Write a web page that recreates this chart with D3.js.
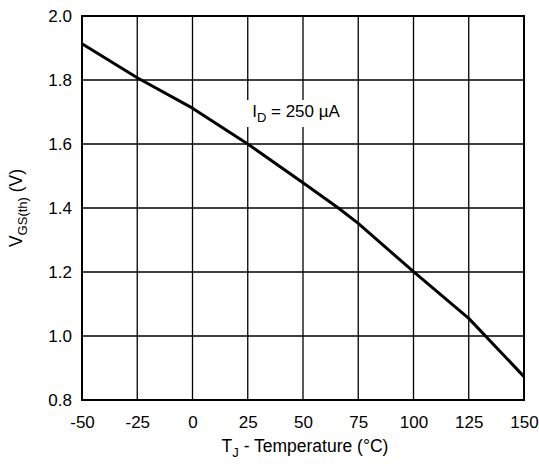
<!DOCTYPE html>
<html>
<head>
<meta charset="utf-8">
<script src="https://cdn.jsdelivr.net/npm/d3@7"></script>
<style>
  body { margin: 0; background: #fff; }
  svg { font-family: "Liberation Sans", Arial, Helvetica, sans-serif; }
</style>
</head>
<body>
<div id="chart"></div>
<script>
// Curve: junction temperature (°C) vs threshold voltage (V)
const temps = [-50, -25, 0, 25, 50, 66, 75, 100, 125, 150];
const vgsth = [1.913, 1.807, 1.712, 1.6, 1.479, 1.4, 1.352, 1.201, 1.055, 0.873];

const xTicks = [-50, -25, 0, 25, 50, 75, 100, 125, 150];
const yTicks = [0.8, 1.0, 1.2, 1.4, 1.6, 1.8, 2.0];

const width = 539;
const height = 464;
const margin = { top: 16, right: 15, bottom: 64, left: 82 };
const fontSize = 17;

const svg = d3.select('#chart')
  .append('svg')
  .attr('width', width)
  .attr('height', height);

const x = d3.scaleLinear()
  .domain([-50, 150])
  .range([margin.left, width - margin.right]);

const y = d3.scaleLinear()
  .domain([0.8, 2.0])
  .range([height - margin.bottom, margin.top]);

// grid lines
svg.append('g')
  .attr('class', 'grid-x')
  .selectAll('line')
  .data(xTicks)
  .enter()
  .append('line')
  .attr('x1', (d) => x(d))
  .attr('x2', (d) => x(d))
  .attr('y1', y(0.8))
  .attr('y2', y(2.0))
  .style('stroke', '#000')
  .style('stroke-width', 1.3);

svg.append('g')
  .attr('class', 'grid-y')
  .selectAll('line')
  .data(yTicks)
  .enter()
  .append('line')
  .attr('x1', x(-50))
  .attr('x2', x(150))
  .attr('y1', (d) => y(d))
  .attr('y2', (d) => y(d))
  .style('stroke', '#000')
  .style('stroke-width', 1.3);

// annotation with white box behind it (box sized from the text)
const note = svg.append('g').attr('class', 'note');
const noteBox = note.append('rect').style('fill', '#fff');

const noteText = note.append('text')
  .attr('x', x(27))
  .attr('y', 117)
  .attr('font-size', `${fontSize}px`)
  .attr('fill', '#000');
noteText.append('tspan').text('I');
noteText.append('tspan').attr('font-size', '13px').attr('dy', 5).text('D');
noteText.append('tspan').attr('dy', -5).text(' = 250 µA');

const nb = noteText.node().getBBox();
noteBox
  .attr('x', nb.x - 6)
  .attr('y', nb.y - 2)
  .attr('width', nb.width + 12)
  .attr('height', nb.height + 4);

// frame
svg.append('rect')
  .attr('x', x(-50))
  .attr('y', y(2.0))
  .attr('width', x(150) - x(-50))
  .attr('height', y(0.8) - y(2.0))
  .style('fill', 'none')
  .style('stroke', '#000')
  .style('stroke-width', 2);

// curve
const line = d3.line()
  .x((d, i) => x(temps[i]))
  .y((d) => y(d));

svg.append('path')
  .datum(vgsth)
  .attr('d', line)
  .style('fill', 'none')
  .style('stroke', '#000')
  .style('stroke-width', 3)
  .style('stroke-linejoin', 'round');

// axes (labels only, ticks hidden)
const xAxis = svg.append('g')
  .attr('transform', `translate(0,${y(0.8)})`)
  .call(d3.axisBottom(x).tickValues(xTicks).tickSize(0).tickPadding(16).tickFormat((d) => String(d)));
xAxis.select('.domain').remove();
xAxis.selectAll('text')
  .attr('font-size', `${fontSize}px`)
  .attr('font-family', '"Liberation Sans", Arial, sans-serif')
  .attr('fill', '#000');

const yAxis = svg.append('g')
  .attr('transform', `translate(${x(-50)},0)`)
  .call(d3.axisLeft(y).tickValues(yTicks).tickSize(0).tickPadding(10).tickFormat(d3.format('.1f')));
yAxis.select('.domain').remove();
yAxis.selectAll('text')
  .attr('font-size', `${fontSize}px`)
  .attr('font-family', '"Liberation Sans", Arial, sans-serif')
  .attr('fill', '#000');

// axis titles
const xTitle = svg.append('text')
  .attr('x', (x(-50) + x(150)) / 2 + 2)
  .attr('y', 452)
  .attr('text-anchor', 'middle')
  .attr('font-size', '17.5px');
xTitle.append('tspan').text('T');
xTitle.append('tspan').attr('font-size', '13px').attr('dy', 5).text('J');
xTitle.append('tspan').attr('dy', -5).text(' - Temperature (°C)');

const yTitle = svg.append('text')
  .attr('transform', `translate(22,${(y(0.8) + y(2.0)) / 2}) rotate(-90)`)
  .attr('text-anchor', 'middle')
  .attr('font-size', '17.5px');
yTitle.append('tspan').text('V');
yTitle.append('tspan').attr('font-size', '13px').attr('dy', 5).text('GS(th)');
yTitle.append('tspan').attr('dy', -5).text(' (V)');
</script>
</body>
</html>
